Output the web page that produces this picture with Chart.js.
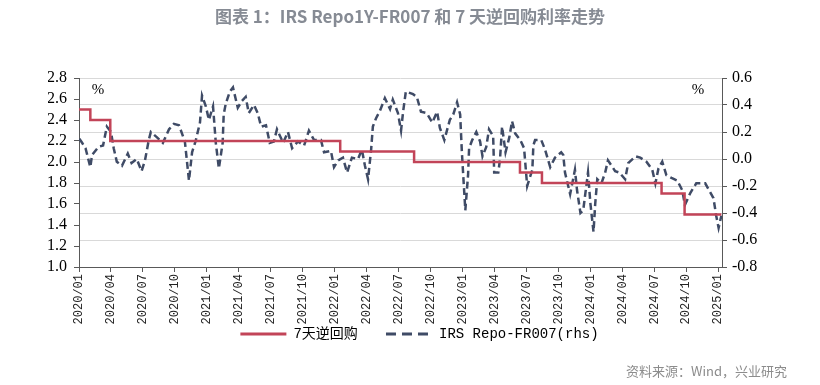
<!DOCTYPE html>
<html>
<head>
<meta charset="utf-8">
<script src="https://cdn.jsdelivr.net/npm/chart.js@4.4.1/dist/chart.umd.min.js"></script>
<style>
  html, body { margin: 0; padding: 0; background: #fff; }
  #wrap { position: relative; width: 820px; height: 385px; }
  #title { position: absolute; left: 0; top: 3px; width: 820px; text-align: center;
           font: bold 17px 'Noto Sans CJK SC', sans-serif; color: #868b94; }
  #source { position: absolute; right: 33px; top: 361px;
            font: 13px 'Noto Sans CJK SC', sans-serif; color: #8c8c8c; }
  canvas { position: absolute; left: 0; top: 0; }
</style>
</head>
<body>
<div id="wrap">
  <canvas id="chart" width="820" height="385"></canvas>
  <div id="title">图表 1：IRS Repo1Y-FR007 和 7 天逆回购利率走势</div>
  <div id="source">资料来源：Wind，兴业研究</div>
</div>
<script>
// x tick labels, one per quarter
const xLabels = ['2020/01','2020/04','2020/07','2020/10','2021/01','2021/04','2021/07','2021/10',
  '2022/01','2022/04','2022/07','2022/10','2023/01','2023/04','2023/07','2023/10',
  '2024/01','2024/04','2024/07','2024/10','2025/01'];

// 7天逆回购 (lhs), rate changes
const repoDates = ['2020-01-01','2020-02-03','2020-03-30','2022-01-17','2022-08-15',
  '2023-06-13','2023-08-15','2024-07-22','2024-09-27','2025-01-10'];
const repoRates = [2.5, 2.4, 2.2, 2.1, 2.0, 1.9, 1.8, 1.7, 1.5, 1.5];

// IRS Repo-FR007 (rhs)
const irsDates = ['2020-01-02','2020-01-10','2020-01-20','2020-02-03','2020-02-08','2020-02-27','2020-03-09','2020-03-20',
  '2020-04-01','2020-04-09','2020-04-18','2020-05-02','2020-05-19','2020-05-30','2020-06-14','2020-06-28',
  '2020-07-07','2020-07-18','2020-07-24','2020-08-11','2020-08-28','2020-09-15','2020-09-29','2020-10-13',
  '2020-10-30','2020-11-11','2020-11-20','2020-11-30','2020-12-12','2020-12-18','2020-12-29','2021-01-07',
  '2021-01-19','2021-01-27','2021-02-05','2021-02-16','2021-02-19','2021-02-25','2021-03-06','2021-03-15',
  '2021-03-29','2021-04-10','2021-04-21','2021-04-30','2021-05-14','2021-05-25','2021-06-04','2021-06-18',
  '2021-06-29','2021-07-10','2021-07-19','2021-08-06','2021-08-20','2021-09-01','2021-09-18','2021-10-05',
  '2021-10-19','2021-11-03','2021-11-23','2021-12-01','2021-12-21','2021-12-30','2022-01-11','2022-01-25',
  '2022-02-06','2022-02-20','2022-03-07','2022-03-18','2022-03-27','2022-04-05','2022-04-14','2022-04-19',
  '2022-04-28','2022-05-09','2022-05-23','2022-06-07','2022-06-15','2022-06-30','2022-07-08','2022-07-14',
  '2022-07-22','2022-08-12','2022-08-23','2022-09-04','2022-09-21','2022-10-06','2022-10-20','2022-10-28',
  '2022-11-10','2022-11-26','2022-12-05','2022-12-16','2022-12-25','2022-12-30','2023-01-09','2023-01-17',
  '2023-01-20','2023-01-29','2023-02-10','2023-02-21','2023-02-28','2023-03-08','2023-03-16','2023-03-28',
  '2023-03-31','2023-04-12','2023-04-17','2023-04-23','2023-05-02','2023-05-13','2023-05-21','2023-05-30',
  '2023-06-14','2023-06-25','2023-07-03','2023-07-18','2023-07-21','2023-07-26','2023-08-13','2023-08-24',
  '2023-09-08','2023-09-22','2023-10-09','2023-10-15','2023-10-20','2023-11-04','2023-11-18','2023-11-24',
  '2023-12-03','2023-12-11','2023-12-20','2023-12-25','2024-01-01','2024-01-10','2024-01-15','2024-01-21',
  '2024-02-02','2024-02-13','2024-02-21','2024-03-11','2024-03-23','2024-04-09','2024-04-18','2024-05-08',
  '2024-05-22','2024-06-09','2024-06-26','2024-07-04','2024-07-13','2024-07-24','2024-08-05','2024-08-20',
  '2024-09-06','2024-09-20','2024-09-28','2024-10-13','2024-10-30','2024-11-25','2024-12-18','2024-12-26',
  '2025-01-02','2025-01-10'];
const irsValues = [0.15,0.12,0.08,-0.06,0.03,0.09,0.10,0.24,
  0.20,0.08,-0.02,-0.05,0.04,-0.03,0.00,-0.09,
  -0.01,0.14,0.20,0.16,0.12,0.22,0.26,0.25,
  0.13,-0.16,0.05,0.13,0.27,0.47,0.39,0.29,
  0.39,0.12,-0.07,0.12,0.33,0.41,0.50,0.53,
  0.38,0.43,0.46,0.34,0.40,0.34,0.24,0.25,
  0.12,0.13,0.22,0.12,0.20,0.08,0.13,0.10,
  0.21,0.14,0.14,0.05,0.06,-0.06,-0.01,0.01,
  -0.10,0.01,0.00,0.07,-0.05,-0.15,0.07,0.24,
  0.30,0.36,0.45,0.37,0.44,0.34,0.21,0.35,
  0.50,0.48,0.46,0.35,0.34,0.27,0.35,0.23,
  0.14,0.29,0.33,0.42,0.33,0.05,-0.38,-0.12,
  0.08,0.14,0.20,0.13,0.02,0.09,0.22,0.17,
  -0.10,-0.10,0.00,0.24,0.05,0.16,0.28,0.19,
  0.14,0.08,-0.20,-0.08,0.10,0.14,0.14,0.07,
  -0.06,0.01,0.05,0.03,-0.10,-0.26,-0.08,-0.23,
  -0.40,-0.38,-0.20,-0.10,-0.33,-0.54,-0.33,-0.15,
  -0.18,-0.10,-0.01,-0.09,-0.10,-0.15,-0.03,0.02,
  0.01,-0.02,-0.08,-0.18,-0.07,-0.02,-0.12,-0.14,
  -0.16,-0.23,-0.34,-0.25,-0.18,-0.18,-0.29,-0.42,
  -0.51,-0.42];

// months since 2020/01
const toMonth = s => {
  const [y, m, d] = s.split('-').map(Number);
  return (y - 2020) * 12 + (m - 1) + (d - 1) / 31;
};

const axisColor = '#595959';
const monoFont = "'Liberation Mono', 'Noto Sans CJK SC', monospace";
const fmt = v => (Math.abs(v) < 1e-9 ? 0 : v).toFixed(1);

const percentMarks = {
  id: 'percentMarks',
  afterDraw(chart) {
    const { ctx, chartArea } = chart;
    ctx.save();
    ctx.fillStyle = '#000';
    ctx.font = "15px 'Liberation Serif'";
    ctx.textBaseline = 'middle';
    ctx.textAlign = 'center';
    ctx.fillText('%', chartArea.left + 19, chartArea.top + 12);
    ctx.fillText('%', chartArea.right - 24, chartArea.top + 12);
    ctx.restore();
  }
};

new Chart(document.getElementById('chart'), {
  type: 'line',
  data: {
    datasets: [
      {
        label: '7天逆回购   ',
        data: repoDates.map((d, i) => ({ x: toMonth(d), y: repoRates[i] })),
        yAxisID: 'y',
        borderColor: '#c24458',
        backgroundColor: '#c24458',
        borderWidth: 2.5,
        stepped: 'before',
        pointRadius: 0
      },
      {
        label: 'IRS Repo-FR007(rhs)',
        data: irsDates.map((d, i) => ({ x: toMonth(d), y: irsValues[i] })),
        yAxisID: 'y1',
        borderColor: '#3f4b66',
        backgroundColor: '#3f4b66',
        borderWidth: 2.5,
        borderDash: [7, 4],
        pointRadius: 0
      }
    ]
  },
  options: {
    responsive: false,
    animation: false,
    layout: { padding: { left: 48, right: 29, top: 78, bottom: 34 } },
    plugins: {
      tooltip: { enabled: false },
      legend: {
        position: 'bottom',
        labels: {
          usePointStyle: true,
          pointStyle: 'line',
          pointStyleWidth: 46,
          padding: 3,
          color: '#000',
          font: { family: monoFont, size: 14 },
          generateLabels: chart => {
            const items = Chart.defaults.plugins.legend.labels.generateLabels(chart);
            items.forEach(item => {
              item.lineWidth = 3;
              if (item.datasetIndex === 1) item.lineDash = [10, 6];
            });
            return items;
          }
        }
      }
    },
    scales: {
      x: {
        type: 'linear',
        min: 0,
        max: 60.35,
        ticks: {
          stepSize: 3,
          includeBounds: false,
          autoSkip: false,
          minRotation: 90,
          maxRotation: 90,
          padding: 2,
          color: '#222',
          font: { family: monoFont, size: 12 },
          callback: v => (v % 3 === 0 ? xLabels[v / 3] : '')
        },
        grid: { drawOnChartArea: false, tickLength: 5, tickColor: axisColor },
        border: { color: axisColor },
        afterFit: s => { s.height = 57; }
      },
      y: {
        position: 'left',
        min: 1.0,
        max: 2.8,
        ticks: {
          stepSize: 0.2,
          autoSkip: false,
          color: '#000',
          padding: 7,
          font: { family: "'Liberation Serif'", size: 16 },
          callback: fmt
        },
        grid: { drawOnChartArea: false, tickLength: 5, tickColor: axisColor },
        border: { color: axisColor },
        afterFit: s => { s.width = 31; }
      },
      y1: {
        position: 'right',
        min: -0.8,
        max: 0.6,
        ticks: {
          stepSize: 0.2,
          autoSkip: false,
          color: '#000',
          padding: 5,
          font: { family: "'Liberation Serif'", size: 16 },
          callback: fmt
        },
        grid: { color: '#d9d9d9', tickLength: 5, tickColor: axisColor },
        border: { color: axisColor },
        afterFit: s => { s.width = 69; }
      }
    }
  },
  plugins: [percentMarks]
});
</script>
</body>
</html>
